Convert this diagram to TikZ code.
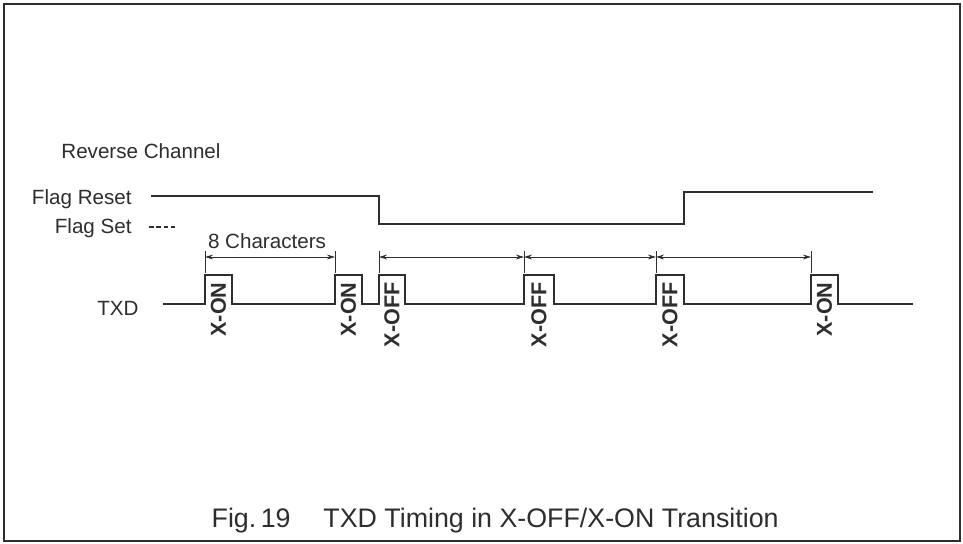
\documentclass[tikz,border=0pt]{standalone}
\usepackage{fontspec}
\setmainfont{Liberation Sans}
\usetikzlibrary{arrows.meta,positioning,calc}
\definecolor{inkgrey}{HTML}{2E2E2E}
\definecolor{paper}{HTML}{FFFFFF}
\tikzset{
  >={Stealth[length=4pt,width=2.4pt]},
  % rahmen und text
  frame/.style={draw=inkgrey,line width=1.3pt},
  lbl/.style={font=\fontsize{10.3}{12}\selectfont,text=inkgrey,inner sep=0pt},
  captxt/.style={font=\fontsize{13.4}{16}\selectfont,text=inkgrey,inner sep=0pt},
  plbl/.style={rotate=90,anchor=east,inner sep=0pt,text=inkgrey,
               font=\fontsize{10.8}{12}\selectfont\bfseries},
  % signale
  sig/.style={draw=inkgrey,line width=1.2pt,line join=miter},
  dimtick/.style={draw=inkgrey,line width=0.45pt},
  dim/.style={<->,draw=inkgrey,line width=0.45pt},
  legdash/.style={draw=inkgrey,line width=0.7pt,dash pattern=on 2.3pt off 1.4pt},
}
\begin{document}
\begin{tikzpicture}[x=0.5pt,y=-0.5pt]
  \useasboundingbox[fill=paper] (0,0) rectangle (963,543);
  \draw[frame] (4,4) rectangle (960,541);
  % beschriftung links
  \node[lbl,anchor=base west] (rev) at (61,158) {Reverse Channel};
  \node[lbl,anchor=base east] (freset) at (132,204) {Flag Reset};
  \node[lbl,anchor=base east] (fset) at (132,233) {Flag Set};
  \node[lbl,anchor=base west] (txd) at (97,315) {TXD};
  \node[lbl,anchor=base] (chars) at (267,248) {8 Characters};
  \coordinate (ds) at (149,227);
  \coordinate (de) at (175,227);
  \draw[legdash] (ds) -- (de);
  % flag
  \draw[sig] (151,196) -- (379,196) -- (379,224) -- (684,224)
             -- (684,192) -- (873,192);
  % txd
  \draw[sig] (163,304) -- (205,304) -- (205,275) -- (232,275) -- (232,304)
             -- (335,304) -- (335,275) -- (362,275) -- (362,304)
             -- (379,304) -- (379,275) -- (405,275) -- (405,304)
             -- (524,304) -- (524,275) -- (554,275) -- (554,304)
             -- (656,304) -- (656,275) -- (684,275) -- (684,304)
             -- (811,304) -- (811,275) -- (838,275) -- (838,304)
             -- (913,304);
  \node[plbl] (on1) at (218.5,282) {X-ON};
  \node[plbl] (on2) at (348.5,282) {X-ON};
  \node[plbl] (off1) at (392,282) {X-OFF};
  \node[plbl] (off2) at (539,282) {X-OFF};
  \node[plbl] (off3) at (670,282) {X-OFF};
  \node[plbl] (on3) at (824.5,282) {X-ON};
  % masspfeile
  \coordinate (t1) at (205,251); \coordinate (b1) at (205,273);
  \coordinate (t2) at (335,251); \coordinate (b2) at (335,273);
  \coordinate (t3) at (379,251); \coordinate (b3) at (379,273);
  \coordinate (t4) at (524,251); \coordinate (b4) at (524,273);
  \coordinate (t5) at (656,251); \coordinate (b5) at (656,273);
  \coordinate (t6) at (811,251); \coordinate (b6) at (811,273);
  \draw[dimtick] (t1) -- (b1);
  \draw[dimtick] (t2) -- (b2);
  \draw[dimtick] (t3) -- (b3);
  \draw[dimtick] (t4) -- (b4);
  \draw[dimtick] (t5) -- (b5);
  \draw[dimtick] (t6) -- (b6);
  \coordinate (d1) at (205,257); \coordinate (d2) at (335,257);
  \coordinate (d3) at (379,257); \coordinate (d4) at (524,257);
  \coordinate (d5) at (656,257); \coordinate (d6) at (811,257);
  \draw[dim] (d1) -- (d2);
  \draw[dim] (d3) -- (d4);
  \draw[dim] (d4) -- (d5);
  \draw[dim] (d5) -- (d6);
  % unterschrift
  \node[captxt,anchor=base east] (fig) at (291,527) {Fig.\,19};
  \node[captxt,anchor=base west] (title) at (323,527) {TXD Timing in X-OFF/X-ON Transition};
\end{tikzpicture}
\end{document}
